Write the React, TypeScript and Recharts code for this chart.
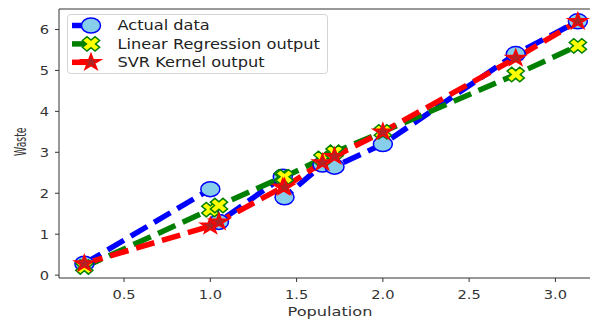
import React from "react";
import { LineChart, Line, XAxis, YAxis, Legend, ReferenceLine } from "recharts";

const populations = [0.27, 1.0, 1.05, 1.42, 1.43, 1.65, 1.72, 2.0, 2.77, 3.13];
const actualWaste = [0.28, 2.1, 1.3, 2.4, 1.9, 2.7, 2.65, 3.2, 5.4, 6.2];
const linearOutput = [0.2, 1.6, 1.7, 2.4, 2.4, 2.85, 3.0, 3.5, 4.9, 5.6];
const svrOutput = [0.28, 1.2, 1.3, 2.15, 2.15, 2.75, 2.9, 3.5, 5.3, 6.2];

const xTicks = [0.5, 1.0, 1.5, 2.0, 2.5, 3.0];
const yTicks = [0, 1, 2, 3, 4, 5, 6];
const seriesNames = ["Actual data", "Linear Regression output", "SVR Kernel output"];

const data = populations.map((x, i) => ({
  x,
  actual: actualWaste[i],
  linear: linearOutput[i],
  svr: svrOutput[i],
}));

const SX = 1.19;
const FONT = "DejaVu Sans";
const TXT = "#333";

function circleShape(cx: number, cy: number, key?: any) {
  return <ellipse key={key} cx={cx} cy={cy} rx={9.5} ry={7.5} fill="#87ceeb" stroke="#0000ff" strokeWidth={1.5} />;
}

function xPath(cx: number, cy: number, R: number) {
  const a = 1, t = 0.36;
  const pts = [[t, a], [t, t], [a, t], [a, -t], [t, -t], [t, -a], [-t, -a], [-t, -t], [-a, -t], [-a, t], [-t, t], [-t, a]];
  const s = Math.SQRT1_2;
  return "M" + pts.map(([x, y]) => {
    const rx = (x - y) * s, ry = (x + y) * s;
    return `${(cx + rx * R * SX).toFixed(2)},${(cy + ry * R).toFixed(2)}`;
  }).join("L") + "Z";
}

function xShape(cx: number, cy: number, key?: any) {
  return <path key={key} d={xPath(cx, cy, 7.5)} fill="#ffff00" stroke="#008000" strokeWidth={1.5} strokeLinejoin="miter" />;
}

function starPath(cx: number, cy: number, R: number) {
  const pts: string[] = [];
  for (let i = 0; i < 10; i++) {
    const ang = (-90 + i * 36) * Math.PI / 180;
    const r = i % 2 ? R * 0.382 : R;
    pts.push(`${(cx + r * Math.cos(ang) * SX).toFixed(2)},${(cy + r * Math.sin(ang)).toFixed(2)}`);
  }
  return "M" + pts.join("L") + "Z";
}

function starShape(cx: number, cy: number, key?: any) {
  return <path key={key} d={starPath(cx, cy, 8.5)} fill="#b22222" stroke="#ff0000" strokeWidth={1.5} strokeLinejoin="miter" />;
}

const XTick = (props: any) => {
  const { x, y, payload } = props;
  return (
    <g transform={`translate(${x},${y})`}>
      <text transform={`scale(${SX},1)`} textAnchor="middle" dy="0.71em" fontSize={12.3} fill={TXT} fontFamily={FONT}>
        {Number(payload.value).toFixed(1)}
      </text>
    </g>
  );
};

const YTick = (props: any) => {
  const { x, y, payload } = props;
  return (
    <g transform={`translate(${x},${y})`}>
      <text transform={`scale(${SX},1)`} textAnchor="end" dy="0.355em" fontSize={12.3} fill={TXT} fontFamily={FONT}>
        {String(payload.value)}
      </text>
    </g>
  );
};

const YLabel = () => (
  <text
    transform={`translate(25.5,141.7) scale(${SX},1) rotate(-90)`}
    textAnchor="middle"
    fontSize={12.8}
    fill={TXT}
    fontFamily={FONT}
    textLength={28.5}
    lengthAdjust="spacingAndGlyphs"
  >
    Waste
  </text>
);

const XLabel = () => (
  <text
    x={330}
    y={315.5}
    textAnchor="middle"
    fontSize={13}
    fill={TXT}
    fontFamily={FONT}
    textLength={85}
    lengthAdjust="spacingAndGlyphs"
  >
    Population
  </text>
);

const markerFns = [circleShape, xShape, starShape];
const colors = ["#0000ff", "#008000", "#ff0000"];

const LegendBox = () => (
  <svg width={263} height={62} style={{ display: "block" }}>
    <rect x={0.5} y={0.5} width={260} height={59} rx={3} fill="#ffffff" fillOpacity={0.8} stroke="#d4d4d4" strokeWidth={1} />
    {seriesNames.map((name, i) => {
      const cy = 11.5 + i * 18.4;
      return (
        <g key={name}>
          <line x1={5} y1={cy} x2={24} y2={cy} stroke={colors[i]} strokeWidth={5.5} />
          {markerFns[i](24, cy)}
          <g transform={`translate(50.5,${cy + 4.7})`}>
            <text transform={`scale(${SX},1)`} fontSize={13.6} fill="#222" fontFamily={FONT}>
              {name}
            </text>
          </g>
        </g>
      );
    })}
  </svg>
);

export default function App() {
  return (
    <div style={{ position: "absolute", left: 0, top: 0, width: 590, height: 321, overflow: "hidden", background: "#fff" }}>
      <LineChart width={610} height={321} data={data} margin={{ top: 9, right: 8, bottom: 0, left: 0 }}>
        <XAxis
          dataKey="x"
          type="number"
          domain={[0.123, 3.27]}
          ticks={xTicks}
          allowDataOverflow
          height={43}
          tickSize={4}
          tickMargin={8}
          tick={<XTick />}
          stroke="#333"
          axisLine={{ stroke: "#333" }}
          tickLine={{ stroke: "#333" }}
          label={<XLabel />}
        />
        <YAxis
          type="number"
          domain={[-0.07, 6.5]}
          ticks={yTicks}
          allowDataOverflow
          width={59}
          tickSize={4}
          tickMargin={6}
          tick={<YTick />}
          stroke="#333"
          axisLine={{ stroke: "#333" }}
          tickLine={{ stroke: "#333" }}
          label={<YLabel />}
        />
        <ReferenceLine y={6.5} stroke="#333" strokeWidth={1} ifOverflow="visible" />
        <ReferenceLine x={3.27} stroke="#333" strokeWidth={1} ifOverflow="visible" />
        <Line
          type="linear"
          dataKey="actual"
          name={seriesNames[0]}
          stroke="#0000ff"
          strokeWidth={5.5}
          strokeDasharray="19 8"
          dot={(p: any) => circleShape(p.cx, p.cy, p.index)}
          activeDot={false}
          isAnimationActive={false}
        />
        <Line
          type="linear"
          dataKey="linear"
          name={seriesNames[1]}
          stroke="#008000"
          strokeWidth={5.5}
          strokeDasharray="19 8"
          dot={(p: any) => xShape(p.cx, p.cy, p.index)}
          activeDot={false}
          isAnimationActive={false}
        />
        <Line
          type="linear"
          dataKey="svr"
          name={seriesNames[2]}
          stroke="#ff0000"
          strokeWidth={5.5}
          strokeDasharray="19 8"
          dot={(p: any) => starShape(p.cx, p.cy, p.index)}
          activeDot={false}
          isAnimationActive={false}
        />
        <Legend
          layout="vertical"
          align="center"
          verticalAlign="middle"
          wrapperStyle={{ position: "absolute", left: 67, top: 14, width: 263, height: 62 }}
          content={() => <LegendBox />}
        />
      </LineChart>
    </div>
  );
}
